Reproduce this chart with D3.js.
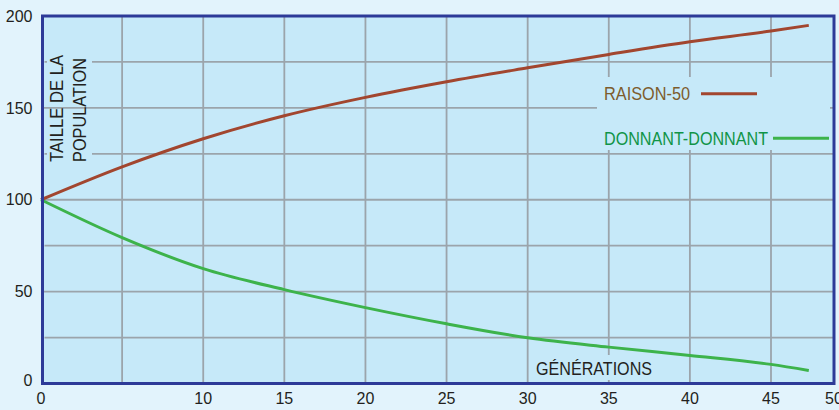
<!DOCTYPE html>
<html><head><meta charset="utf-8">
<script src="https://cdn.jsdelivr.net/npm/d3@7"></script>
<style>html,body{margin:0;padding:0;background:#e2f3fc;}svg{display:block;font-family:"Liberation Sans",Arial,sans-serif;}</style>
</head><body>
<svg id="c" width="839" height="410"></svg>
<script>
const generations = [0, 5, 10, 15, 20, 25, 30, 35, 40, 45, 48];
const raison50 = [100, 117.9, 133.2, 145.7, 155.7, 164.2, 171.8, 179.1, 186, 191.8, 194.9];
const donnant = [100, 79.4, 62.5, 51.1, 41.3, 32.5, 24.9, 19.8, 15.3, 10.4, 7.1];
const xTickLabels = [0, 10, 15, 20, 25, 30, 35, 40, 45, 50];
const xGrid = [5, 10, 15, 20, 25, 30, 35, 40, 45];
const yTickLabels = [0, 50, 100, 150, 200];
const yMajor = [50, 100, 150];
const yMinor = [25, 75, 125, 175];
const seriesNames = ["RAISON-50", "DONNANT-DONNANT"];

const svg = d3.select("#c");
const L = 42.5, R = 834, T = 16, B = 383.5;
const x = d3.scaleLinear().domain([0, 45, 50]).range([41, 771, R]);
const y = d3.scaleLinear().domain([0, 200]).range([B, T]);

const bgPlot = "#c6e9f9", grid = "#9ba4ab";

svg.append("rect").attr("x", L).attr("y", T).attr("width", R - L).attr("height", B - T).attr("fill", bgPlot);

// minor horizontal gridlines
svg.append("g").selectAll("line").data(yMinor).join("line")
  .attr("x1", L + 2).attr("x2", R).attr("y1", d => y(d)).attr("y2", d => y(d))
  .attr("stroke", grid).attr("stroke-width", 1.8);

// y-label backdrop
svg.append("rect").attr("x", 47).attr("y", 48).attr("width", 45).attr("height", 122).attr("fill", bgPlot);

// major horizontal gridlines
svg.append("g").selectAll("line").data(yMajor).join("line")
  .attr("x1", L).attr("x2", R).attr("y1", d => y(d)).attr("y2", d => y(d))
  .attr("stroke", grid).attr("stroke-width", 1.8);

// vertical gridlines
svg.append("g").selectAll("line").data(xGrid).join("line")
  .attr("x1", d => x(d)).attr("x2", d => x(d)).attr("y1", T).attr("y2", B)
  .attr("stroke", grid).attr("stroke-width", 1.8);

// legend backdrop
svg.append("rect").attr("x", 597).attr("y", 77).attr("width", 233).attr("height", 73).attr("fill", bgPlot);
// x-title backdrop
svg.append("rect").attr("x", 533).attr("y", 355).attr("width", 124).attr("height", 25).attr("fill", bgPlot);

// lines
const line = d3.line().x((d, i) => x(generations[i])).y(d => y(d)).curve(d3.curveMonotoneX);
svg.append("path").datum(raison50).attr("d", line).attr("fill", "none").attr("stroke", "#a2462f").attr("stroke-width", 3);
svg.append("path").datum(donnant).attr("d", line).attr("fill", "none").attr("stroke", "#3db34b").attr("stroke-width", 3);

// legend
svg.append("text").attr("x", 604).attr("y", 100).attr("font-size", 18).attr("fill", "#7d5c2c")
  .attr("textLength", 86).attr("lengthAdjust", "spacingAndGlyphs").text(seriesNames[0]);
svg.append("line").attr("x1", 701).attr("x2", 757).attr("y1", 93.7).attr("y2", 93.7).attr("stroke", "#a2462f").attr("stroke-width", 3);
svg.append("text").attr("x", 604).attr("y", 145).attr("font-size", 18).attr("fill", "#109447")
  .attr("textLength", 164).attr("lengthAdjust", "spacingAndGlyphs").text(seriesNames[1]);
svg.append("line").attr("x1", 773).attr("x2", 829).attr("y1", 138.3).attr("y2", 138.3).attr("stroke", "#3db34b").attr("stroke-width", 3);

// axis titles
svg.append("text").attr("x", 536).attr("y", 375).attr("font-size", 18).attr("fill", "#231f20")
  .attr("textLength", 116).attr("lengthAdjust", "spacingAndGlyphs").text("GÉNÉRATIONS");
svg.append("text").attr("transform", "translate(63,162) rotate(-90)").attr("font-size", 18).attr("fill", "#231f20")
  .attr("textLength", 107).attr("lengthAdjust", "spacingAndGlyphs").text("TAILLE DE LA");
svg.append("text").attr("transform", "translate(86,162) rotate(-90)").attr("font-size", 18).attr("fill", "#231f20")
  .attr("textLength", 104).attr("lengthAdjust", "spacingAndGlyphs").text("POPULATION");

// border
svg.append("rect").attr("x", L).attr("y", T).attr("width", R - L).attr("height", B - T)
  .attr("fill", "none").attr("stroke", "#2d3a98").attr("stroke-width", 3);

// tick labels
svg.append("g").selectAll("text").data(xTickLabels).join("text")
  .attr("x", d => x(d)).attr("y", 404).attr("text-anchor", "middle").attr("font-size", 16).attr("fill", "#231f20")
  .text(d => d);
svg.append("g").selectAll("text").data(yTickLabels).join("text")
  .attr("x", 32.5).attr("y", d => y(d) + 5.7 - (d === 0 ? 3 : 0)).attr("text-anchor", "end").attr("font-size", 16).attr("fill", "#231f20")
  .text(d => d);
</script>
</body></html>
